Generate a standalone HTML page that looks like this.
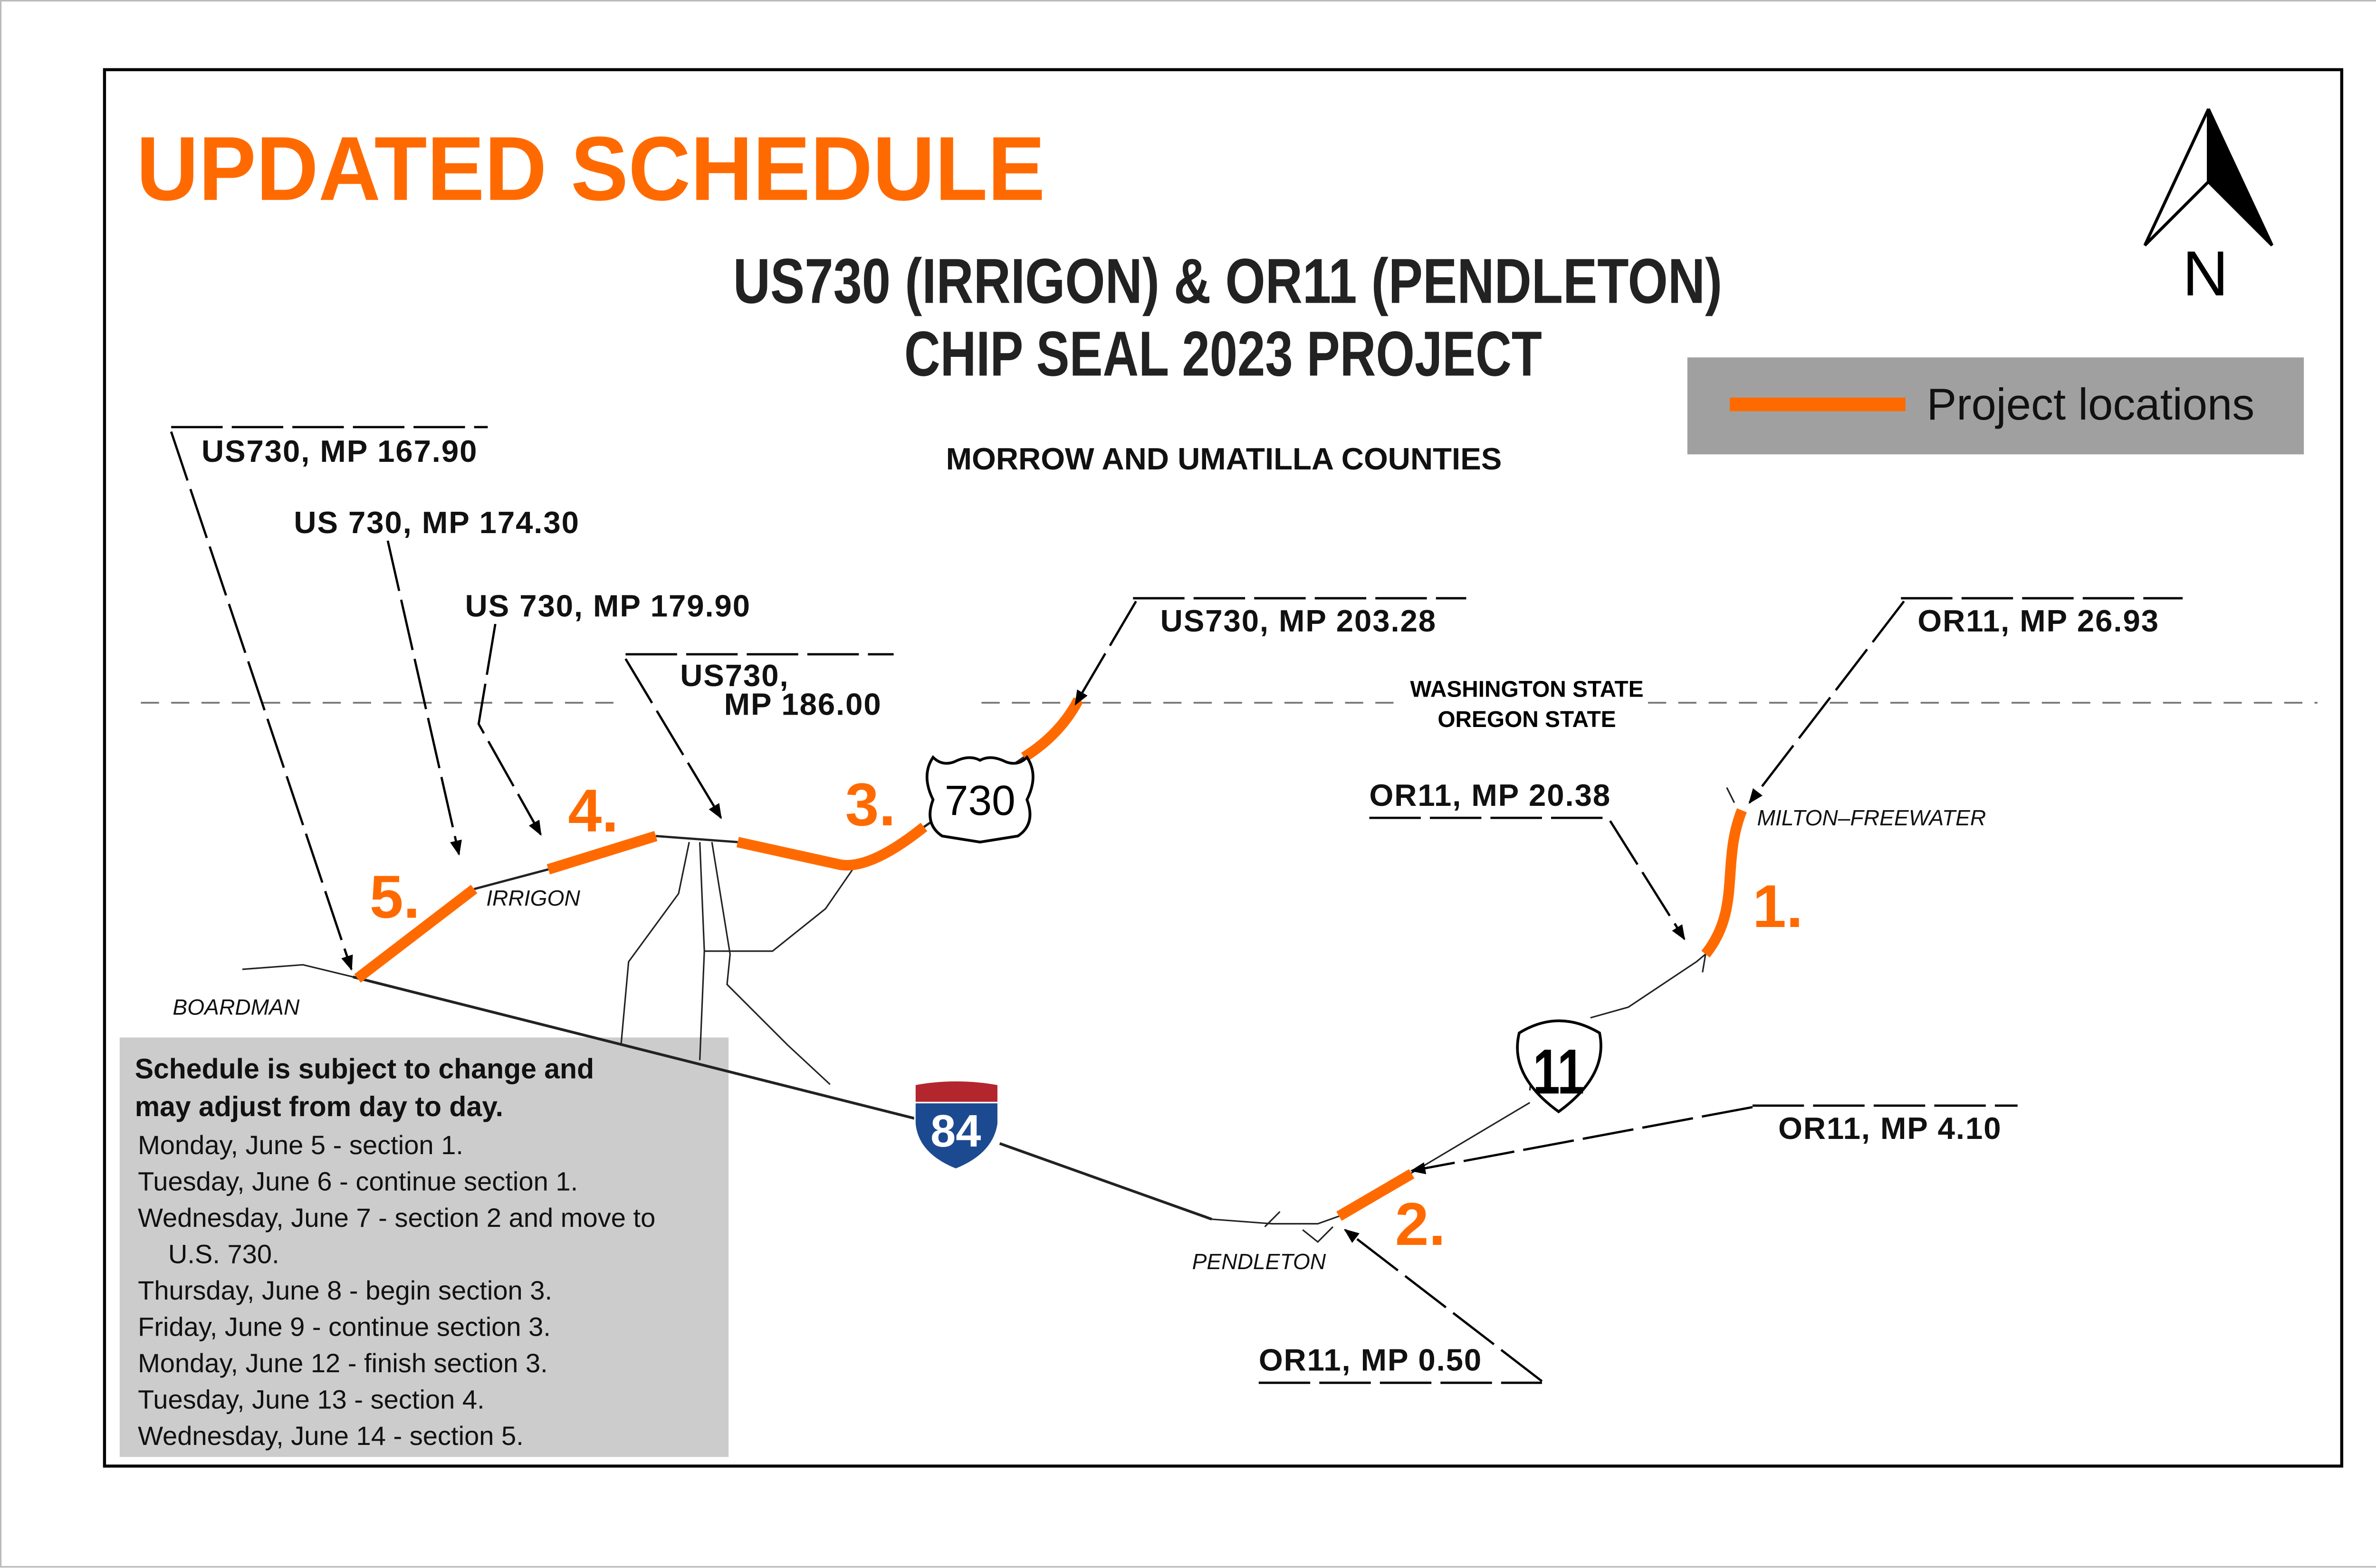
<!DOCTYPE html>
<html><head><meta charset="utf-8"><style>
html,body{margin:0;padding:0;background:#fff}
svg{display:block}
text{font-family:"Liberation Sans",sans-serif}
</style></head><body>
<svg width="5100" height="3300" viewBox="0 0 1600 1035.29" xmlns="http://www.w3.org/2000/svg">
<defs>
<marker id="ah" markerWidth="10" markerHeight="10" refX="9" refY="5" orient="auto" markerUnits="userSpaceOnUse" viewBox="0 0 10 10">
<path d="M0,1 L10,5 L0,9 Z" fill="#000"/></marker>
</defs>
<rect x="0.5" y="0.5" width="1599" height="1034" fill="#fff" stroke="#bbb" stroke-width="1"/>
<rect x="69" y="46" width="1477" height="922" fill="none" stroke="#000" stroke-width="2"/>

<text x="90" y="132" font-size="60" font-weight="bold" fill="#FF6A00" textLength="600" lengthAdjust="spacingAndGlyphs">UPDATED SCHEDULE</text>
<text x="484" y="200" font-size="42" font-weight="bold" fill="#222" textLength="653" lengthAdjust="spacingAndGlyphs">US730 (IRRIGON) &amp; OR11 (PENDLETON)</text>
<text x="597" y="248" font-size="42" font-weight="bold" fill="#222" textLength="421" lengthAdjust="spacingAndGlyphs">CHIP SEAL 2023 PROJECT</text>
<text x="808" y="310" font-size="20.5" font-weight="bold" text-anchor="middle" fill="#111">MORROW AND UMATILLA COUNTIES</text>

<!-- north arrow -->
<path d="M1458,72 L1416,162 L1458,120 Z" fill="#fff" stroke="#000" stroke-width="2"/>
<path d="M1458,72 L1500,162 L1458,120 Z" fill="#000" stroke="#000" stroke-width="2"/>
<text x="1456" y="195" font-size="42" text-anchor="middle" fill="#000">N</text>

<!-- legend -->
<rect x="1114" y="236" width="407" height="64" fill="#a0a0a0"/>
<line x1="1142" y1="267" x2="1258" y2="267" stroke="#FF6A00" stroke-width="9"/>
<text x="1272" y="277" font-size="29.5" fill="#111">Project locations</text>

<!-- state line -->
<line x1="93" y1="464" x2="405" y2="464" stroke="#777" stroke-width="1.2" stroke-dasharray="12,8"/>
<line x1="648" y1="464" x2="1530" y2="464" stroke="#777" stroke-width="1.2" stroke-dasharray="12,8"/>
<rect x="928" y="446" width="160" height="38" fill="#fff"/>
<text x="1008" y="460" font-size="15" font-weight="bold" text-anchor="middle">WASHINGTON STATE</text>
<text x="1008" y="480" font-size="15" font-weight="bold" text-anchor="middle">OREGON STATE</text>

<!-- schedule box -->
<rect x="79" y="685" width="402" height="277" fill="#cccccc"/>
<g font-size="17.6" fill="#111">
<text x="89" y="712" font-weight="bold" font-size="18.5">Schedule is subject to change and</text>
<text x="89" y="737" font-weight="bold" font-size="18.5">may adjust from day to day.</text>
<text x="91" y="762">Monday, June 5 - section 1.</text>
<text x="91" y="786">Tuesday, June 6 - continue section 1.</text>
<text x="91" y="810">Wednesday, June 7 - section 2 and move to</text>
<text x="111" y="834">U.S. 730.</text>
<text x="91" y="858">Thursday, June 8 - begin section 3.</text>
<text x="91" y="882">Friday, June 9 - continue section 3.</text>
<text x="91" y="906">Monday, June 12 - finish section 3.</text>
<text x="91" y="930">Tuesday, June 13 - section 4.</text>
<text x="91" y="954">Wednesday, June 14 - section 5.</text>
</g>

<!-- minor roads -->
<g fill="none" stroke="#222" stroke-width="1">
<path d="M160,640 L200,637 L233,645"/>
<path d="M455,556 L448,590 L415,635 L410,690"/>
<path d="M462,556 L465,628 L462,700"/>
<path d="M470,556 L482,630 L480,650 L520,690 L548,716"/>
<path d="M565,571 L545,600 L510,628 L465,628"/>
<path d="M800,805 L840,808 L870,808 L884,803"/>
<path d="M835,810 L845,800 M860,812 L870,820 L880,810"/>
<path d="M1010,720 L1012,700 M1050,672 L1075,665 L1120,635 L1126,630 M1126,630 L1124,642"/>
<path d="M1145,530 L1140,520"/>
</g>
<path d="M233,645 L610,740 M660,755 L800,805" fill="none" stroke="#222" stroke-width="1.8"/>
<path d="M313,587 L362,574 M433,552 L487,556 M610,546 L676,500" fill="none" stroke="#222" stroke-width="1.5"/>
<path d="M884,803 L1010,728" fill="none" stroke="#222" stroke-width="1"/>

<!-- orange sections -->
<g fill="none" stroke="#FF6A00" stroke-width="7" stroke-linecap="butt">
<path d="M236,646 L313,587"/>
<path d="M362,574 L433,552"/>
<path d="M487,556 L555,571 Q575,574 610,546"/>
<path d="M676,500 Q700,485 712,462"/>
<path d="M1126,630 C1150,600 1136,570 1150,535"/>
<path d="M884,803 L932,775"/>
</g>
<g font-size="40" font-weight="bold" fill="#FF6A00">
<text x="244" y="606">5.</text>
<text x="375" y="549">4.</text>
<text x="558" y="545">3.</text>
<text x="1157" y="612">1.</text>
<text x="921" y="822">2.</text>
</g>

<!-- shields -->
<path d="M616,500 Q622,506 630,503 Q640,498 647,502 Q654,498 664,503 Q672,506 678,500 Q686,512 678,528 Q684,544 672,552 L647,556 L622,552 Q610,544 616,528 Q608,512 616,500 Z" fill="#fff" stroke="#000" stroke-width="1.8"/>
<text x="647" y="538" font-size="28" text-anchor="middle">730</text>
<path d="M1003,682 Q1029,666 1056,682 Q1062,710 1029,734 Q996,710 1003,682 Z" fill="#fff" stroke="#000" stroke-width="1.8"/>
<text x="1029" y="722" font-size="42" font-weight="bold" text-anchor="middle" textLength="34" lengthAdjust="spacingAndGlyphs">11</text>
<path d="M604,716 Q631,711 659,716 L659,728 L604,728 Z" fill="#b3262e" stroke="#fff" stroke-width="1"/>
<path d="M604,728 L659,728 L659,742 Q656,762 631,772 Q606,762 604,742 Z" fill="#1c4a91" stroke="#fff" stroke-width="1"/>
<text x="631" y="757" font-size="30" font-weight="bold" fill="#fff" text-anchor="middle">84</text>

<!-- place names -->
<g font-size="14.5" font-style="italic" fill="#111">
<text x="321" y="598">IRRIGON</text>
<text x="114" y="670">BOARDMAN</text>
<text x="787" y="838">PENDLETON</text>
<text x="1160" y="545">MILTON–FREEWATER</text>
</g>

<!-- callouts -->
<g fill="none" stroke="#000" stroke-width="1.5" stroke-dasharray="34,6">
<line x1="113" y1="282" x2="322" y2="282"/>
<line x1="413" y1="432" x2="590" y2="432"/>
<line x1="748" y1="395" x2="968" y2="395"/>
<line x1="1255" y1="395" x2="1441" y2="395"/>
<line x1="904" y1="540" x2="1062" y2="540"/>
<line x1="1157" y1="730" x2="1332" y2="730"/>
<line x1="831" y1="913" x2="1018" y2="913"/>
</g>
<g fill="none" stroke="#000" stroke-width="1.5" stroke-dasharray="34,6" marker-end="url(#ah)">
<path d="M113,285 L232,640"/>
<path d="M256,357 L303,564"/>
<path d="M327,412 L316,478 L357,551"/>
<path d="M413,435 L476,540"/>
<path d="M750,397 L710,465"/>
<path d="M1257,397 L1155,530"/>
<path d="M1063,542 L1112,620"/>
<path d="M1157,731 L932,773"/>
<path d="M1018,912 L888,812"/>
</g>
<g font-size="20.5" font-weight="bold" fill="#111" letter-spacing="0.6">
<text x="133" y="305">US730, MP 167.90</text>
<text x="194" y="352">US 730, MP 174.30</text>
<text x="307" y="407">US 730, MP 179.90</text>
<text x="449" y="453">US730,</text>
<text x="478" y="472">MP 186.00</text>
<text x="766" y="417">US730, MP 203.28</text>
<text x="1266" y="417">OR11, MP 26.93</text>
<text x="904" y="532">OR11, MP 20.38</text>
<text x="1174" y="752">OR11, MP 4.10</text>
<text x="831" y="905">OR11, MP 0.50</text>
</g>
</svg>
</body></html>
